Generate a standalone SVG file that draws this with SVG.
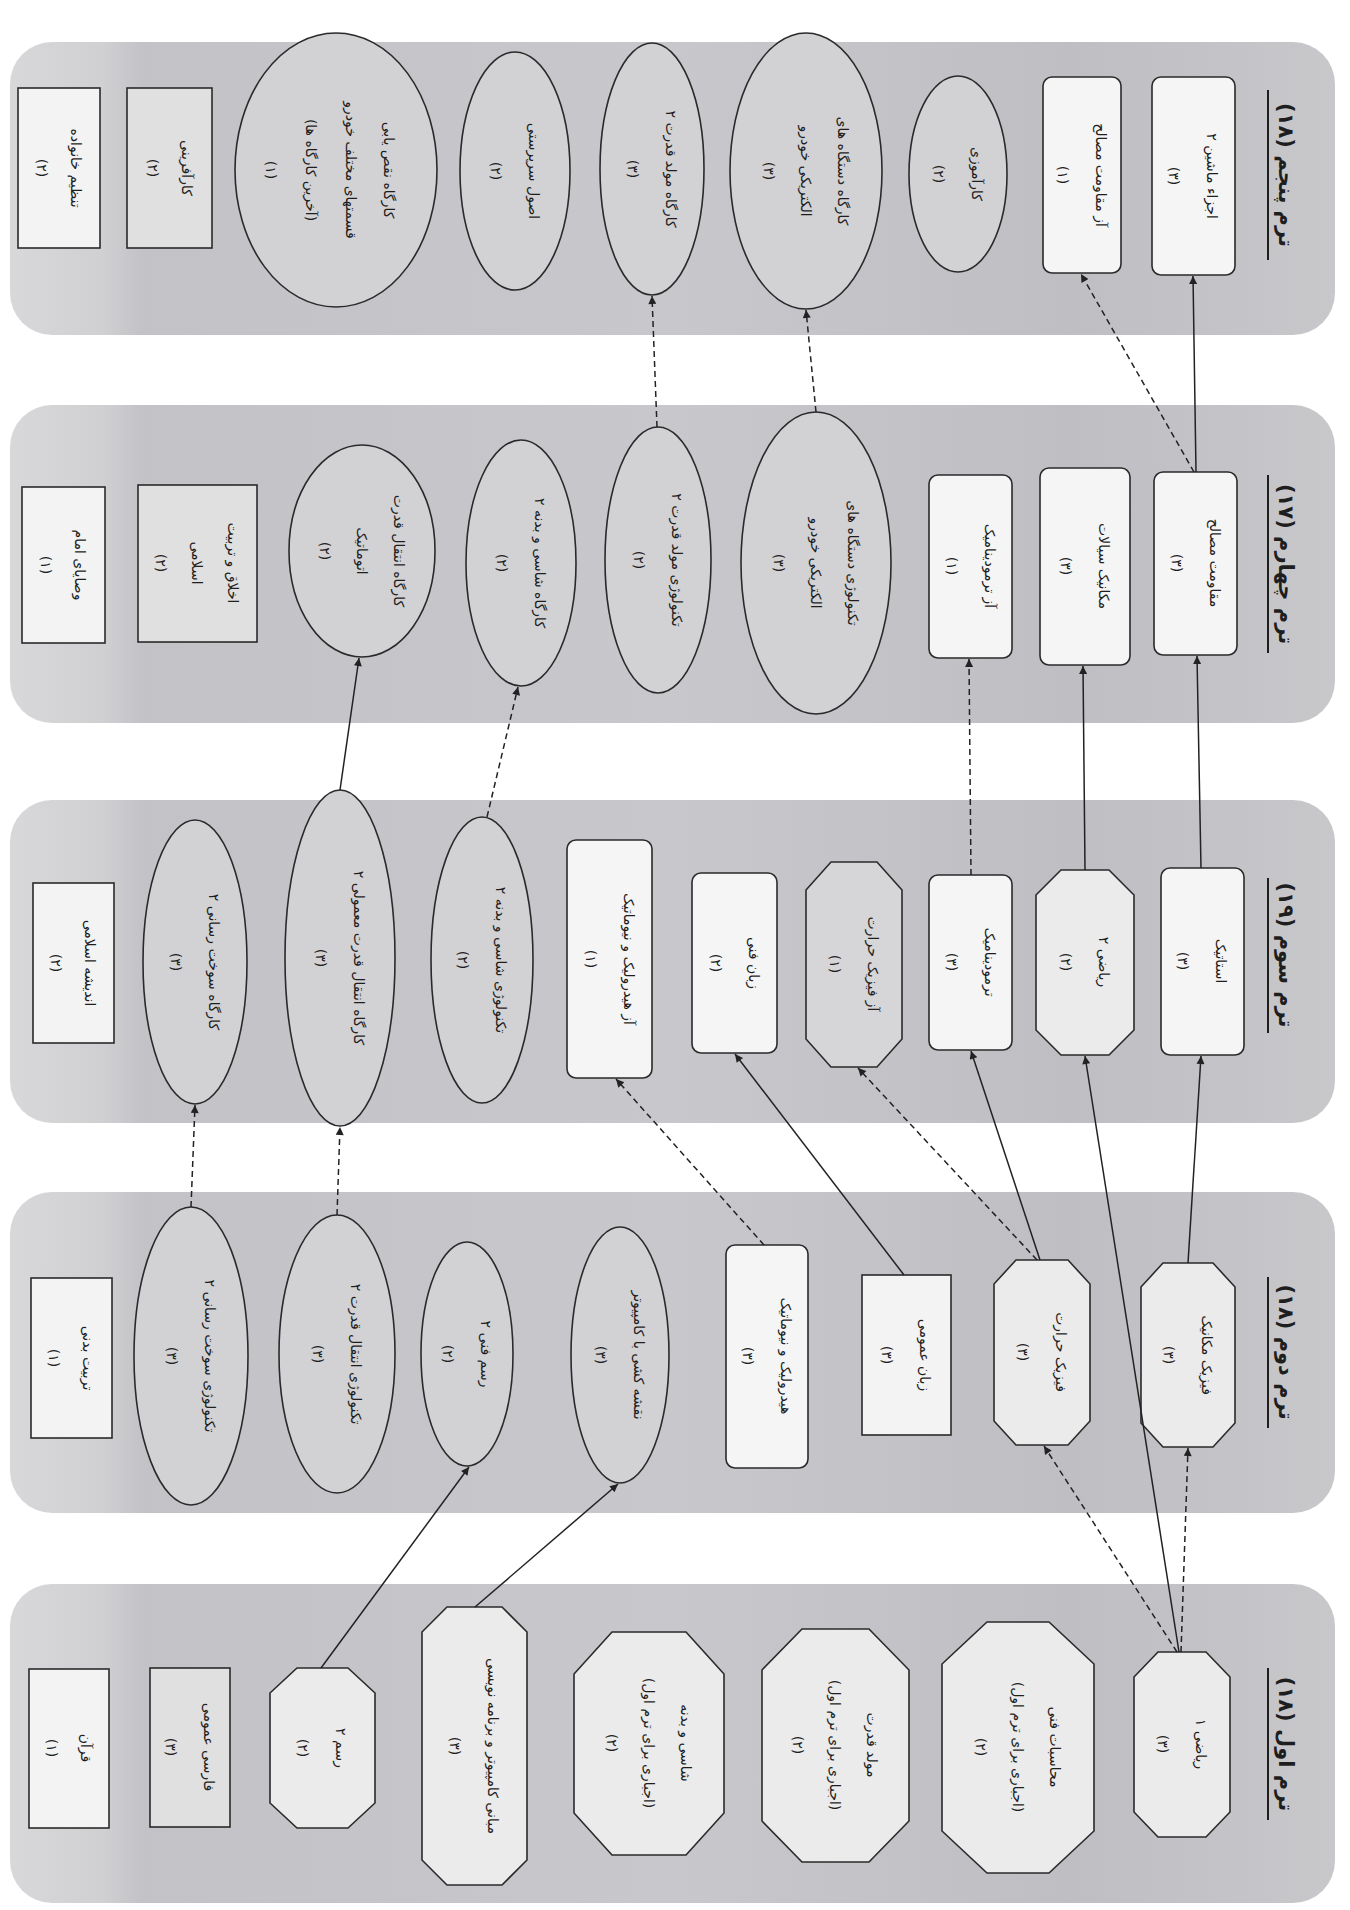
<svg xmlns="http://www.w3.org/2000/svg" width="1350" height="1910" viewBox="0 0 1350 1910">
<style>
.band{fill:url(#bandg);stroke:none}
.rc{fill:#f3f3f3;stroke:#2a2a2a;stroke-width:1.6}
.rg{fill:#e0e0e0;stroke:#2a2a2a;stroke-width:1.6}
.rr{fill:#f5f5f5;stroke:#2a2a2a;stroke-width:1.6}
.oc{fill:#ebebeb;stroke:#2a2a2a;stroke-width:1.6}
.og{fill:#d6d6d8;stroke:#2a2a2a;stroke-width:1.6}
.el{fill:#d2d2d5;stroke:#2a2a2a;stroke-width:1.6}
.t{font-family:"DejaVu Sans",sans-serif;font-size:14px;fill:#1e1e1e;text-anchor:middle;dominant-baseline:central;direction:rtl}
.h{font-family:"DejaVu Sans",sans-serif;font-size:21px;font-weight:bold;fill:#1e1e1e;text-anchor:middle;dominant-baseline:central;direction:rtl}
.ul{stroke:#1e1e1e;stroke-width:2}
.s{fill:none;stroke:#222;stroke-width:1.5;marker-end:url(#ah)}
.d{fill:none;stroke:#222;stroke-width:1.5;stroke-dasharray:6 4;marker-end:url(#ah)}
</style>
<defs>
<linearGradient id="bandg" x1="0" y1="0" x2="1" y2="0">
<stop offset="0" stop-color="#d8d8da"/>
<stop offset="0.07" stop-color="#d0d0d3"/>
<stop offset="0.1" stop-color="#c3c3c7"/>
<stop offset="0.5" stop-color="#c8c8cc"/>
<stop offset="0.8" stop-color="#bebec3"/>
<stop offset="1" stop-color="#c8c8cb"/>
</linearGradient>
<marker id="ah" viewBox="0 0 10 10" refX="10" refY="5" markerWidth="11" markerHeight="8" orient="auto" markerUnits="userSpaceOnUse">
<path d="M0,0 L10,5 L0,10 z" fill="#222"/>
</marker>
</defs>
<rect width="1350" height="1910" fill="#ffffff"/>
<g id="bands">
<rect class="band" x="10" y="42" width="1325" height="293" rx="42"/>
<rect class="band" x="10" y="405" width="1325" height="318" rx="42"/>
<rect class="band" x="10" y="800" width="1325" height="323" rx="42"/>
<rect class="band" x="10" y="1192" width="1325" height="321" rx="42"/>
<rect class="band" x="10" y="1584" width="1325" height="319" rx="42"/>
</g>
<g id="headers">
<g id="h5"><line class="ul" x1="1268" y1="90" x2="1268" y2="260"/><g transform="translate(1286,175) rotate(90)"><text class="h">ترم پنجم (۱۸)</text></g></g>
<g id="h4"><line class="ul" x1="1268" y1="475" x2="1268" y2="653"/><g transform="translate(1286,564) rotate(90)"><text class="h">ترم چهارم (۱۷)</text></g></g>
<g id="h3"><line class="ul" x1="1268" y1="878" x2="1268" y2="1033"/><g transform="translate(1286,955) rotate(90)"><text class="h">ترم سوم (۱۹)</text></g></g>
<g id="h2"><line class="ul" x1="1268" y1="1277" x2="1268" y2="1428"/><g transform="translate(1286,1352) rotate(90)"><text class="h">ترم دوم (۱۸)</text></g></g>
<g id="h1"><line class="ul" x1="1268" y1="1668" x2="1268" y2="1820"/><g transform="translate(1286,1744) rotate(90)"><text class="h">ترم اول (۱۸)</text></g></g>
</g>

<!-- Term 1 -->
<g id="quran"><rect class="rc" x="29" y="1669" width="80" height="159"/><g transform="translate(69,1748) rotate(90)"><text class="t" y="-17">قرآن</text><text class="t" y="17">(۱)</text></g></g>
<g id="farsi"><rect class="rg" x="150" y="1668" width="80" height="159"/><g transform="translate(190,1747) rotate(90)"><text class="t" y="-19">فارسی عمومی</text><text class="t" y="19">(۳)</text></g></g>
<g id="rasm2"><polygon class="oc" points="297,1668 348,1668 375,1693 375,1803 348,1828 297,1828 270,1803 270,1693"/><g transform="translate(322,1748) rotate(90)"><text class="t" y="-19">رسم ۲</text><text class="t" y="19">(۲)</text></g></g>
<g id="mabani"><polygon class="oc" points="447,1607 502,1607 527,1632 527,1860 502,1885 447,1885 422,1860 422,1632"/><g transform="translate(474,1746) rotate(90)"><text class="t" y="-19">مبانی کامپیوتر و برنامه نویسی</text><text class="t" y="19">(۳)</text></g></g>
<g id="shasi"><polygon class="oc" points="612,1632 686,1632 724,1674 724,1813 686,1855 612,1855 574,1813 574,1674"/><g transform="translate(649,1743) rotate(90)"><text class="t" y="-37">شاسی و بدنه</text><text class="t" y="0">(اجباری برای ترم اول)</text><text class="t" y="37">(۲)</text></g></g>
<g id="movaled"><polygon class="oc" points="802,1629 869,1629 909,1670 909,1821 869,1862 802,1862 762,1821 762,1670"/><g transform="translate(835,1745) rotate(90)"><text class="t" y="-37">مولد قدرت</text><text class="t" y="0">(اجباری برای ترم اول)</text><text class="t" y="37">(۲)</text></g></g>
<g id="mohasebat"><polygon class="oc" points="987,1622 1049,1622 1094,1664 1094,1831 1049,1873 987,1873 942,1831 942,1664"/><g transform="translate(1018,1747) rotate(90)"><text class="t" y="-37">محاسبات فنی</text><text class="t" y="0">(اجباری برای ترم اول)</text><text class="t" y="37">(۲)</text></g></g>
<g id="riazi1"><polygon class="oc" points="1158,1652 1206,1652 1230,1677 1230,1812 1206,1837 1158,1837 1134,1812 1134,1677"/><g transform="translate(1182,1744) rotate(90)"><text class="t" y="-19">ریاضی ۱</text><text class="t" y="19">(۳)</text></g></g>

<!-- Term 2 -->
<g id="tarbiat"><rect class="rc" x="31" y="1278" width="81" height="160"/><g transform="translate(71,1358) rotate(90)"><text class="t" y="-17">تربیت بدنی</text><text class="t" y="17">(۱)</text></g></g>
<g id="tech-sookht2"><ellipse class="el" cx="191" cy="1356" rx="57" ry="149"/><g transform="translate(191,1356) rotate(90)"><text class="t" y="-19">تکنولوژی سوخت رسانی ۲</text><text class="t" y="19">(۳)</text></g></g>
<g id="tech-enteghal2"><ellipse class="el" cx="337" cy="1354" rx="58" ry="139"/><g transform="translate(337,1354) rotate(90)"><text class="t" y="-19">تکنولوژی انتقال قدرت ۲</text><text class="t" y="19">(۳)</text></g></g>
<g id="rasm-fani2"><ellipse class="el" cx="467" cy="1354" rx="46" ry="112"/><g transform="translate(467,1354) rotate(90)"><text class="t" y="-19">رسم فنی ۲</text><text class="t" y="19">(۲)</text></g></g>
<g id="naghshe"><ellipse class="el" cx="620" cy="1355" rx="49" ry="128"/><g transform="translate(620,1355) rotate(90)"><text class="t" y="-19">نقشه کشی با کامپیوتر</text><text class="t" y="19">(۳)</text></g></g>
<g id="hydraulic"><rect class="rr" x="726" y="1245" width="82" height="223" rx="9"/><g transform="translate(767,1356) rotate(90)"><text class="t" y="-19">هیدرولیک و نیوماتیک</text><text class="t" y="19">(۳)</text></g></g>
<g id="zaban-omoomi"><rect class="rc" x="862" y="1275" width="89" height="160"/><g transform="translate(906,1355) rotate(90)"><text class="t" y="-19">زبان عمومی</text><text class="t" y="19">(۳)</text></g></g>
<g id="fizik-hararat"><polygon class="oc" points="1016,1260 1068,1260 1090,1284 1090,1421 1068,1445 1016,1445 994,1421 994,1284"/><g transform="translate(1042,1352) rotate(90)"><text class="t" y="-19">فیزیک حرارت</text><text class="t" y="19">(۳)</text></g></g>
<g id="fizik-mechanic"><polygon class="oc" points="1163,1263 1213,1263 1235,1287 1235,1423 1213,1447 1163,1447 1141,1423 1141,1287"/><g transform="translate(1188,1355) rotate(90)"><text class="t" y="-19">فیزیک مکانیک</text><text class="t" y="19">(۳)</text></g></g>

<!-- Term 3 -->
<g id="andishe"><rect class="rc" x="33" y="883" width="81" height="160"/><g transform="translate(73,963) rotate(90)"><text class="t" y="-17">اندیشه اسلامی</text><text class="t" y="17">(۲)</text></g></g>
<g id="kargah-sookht2"><ellipse class="el" cx="195" cy="962" rx="52" ry="142"/><g transform="translate(195,962) rotate(90)"><text class="t" y="-19">کارگاه سوخت رسانی ۲</text><text class="t" y="19">(۳)</text></g></g>
<g id="kargah-enteghal-mamooli2"><ellipse class="el" cx="340" cy="958" rx="55" ry="168"/><g transform="translate(340,958) rotate(90)"><text class="t" y="-19">کارگاه انتقال قدرت معمولی ۲</text><text class="t" y="19">(۳)</text></g></g>
<g id="tech-shasi2"><ellipse class="el" cx="482" cy="960" rx="51" ry="143"/><g transform="translate(482,960) rotate(90)"><text class="t" y="-19">تکنولوژی شاسی و بدنه ۲</text><text class="t" y="19">(۲)</text></g></g>
<g id="az-hydraulic"><rect class="rr" x="567" y="840" width="85" height="238" rx="9"/><g transform="translate(610,959) rotate(90)"><text class="t" y="-19">آز هیدرولیک و نیوماتیک</text><text class="t" y="19">(۱)</text></g></g>
<g id="zaban-fani"><rect class="rr" x="692" y="873" width="85" height="180" rx="9"/><g transform="translate(735,963) rotate(90)"><text class="t" y="-19">زبان فنی</text><text class="t" y="19">(۲)</text></g></g>
<g id="az-fizik-hararat"><polygon class="og" points="831,862 877,862 902,890 902,1039 877,1067 831,1067 806,1039 806,890"/><g transform="translate(854,964) rotate(90)"><text class="t" y="-19">آز فیزیک حرارت</text><text class="t" y="19">(۱)</text></g></g>
<g id="termo"><rect class="rr" x="929" y="875" width="83" height="175" rx="9"/><g transform="translate(971,962) rotate(90)"><text class="t" y="-19">ترمودینامیک</text><text class="t" y="19">(۳)</text></g></g>
<g id="riazi2"><polygon class="oc" points="1061,870 1109,870 1134,895 1134,1030 1109,1055 1061,1055 1036,1030 1036,895"/><g transform="translate(1085,962) rotate(90)"><text class="t" y="-19">ریاضی ۲</text><text class="t" y="19">(۲)</text></g></g>
<g id="estatik"><rect class="rr" x="1161" y="868" width="83" height="187" rx="9"/><g transform="translate(1202,961) rotate(90)"><text class="t" y="-19">استاتیک</text><text class="t" y="19">(۳)</text></g></g>

<!-- Term 4 -->
<g id="vasaya"><rect class="rc" x="22" y="487" width="83" height="156"/><g transform="translate(63,565) rotate(90)"><text class="t" y="-17">وصایای امام</text><text class="t" y="17">(۱)</text></g></g>
<g id="akhlagh"><rect class="rg" x="138" y="485" width="119" height="157"/><g transform="translate(197,563) rotate(90)"><text class="t" y="-36">اخلاق و تربیت</text><text class="t" y="0">اسلامی</text><text class="t" y="36">(۲)</text></g></g>
<g id="kargah-enteghal-auto"><ellipse class="el" cx="362" cy="551" rx="73" ry="106"/><g transform="translate(362,551) rotate(90)"><text class="t" y="-37">کارگاه انتقال قدرت</text><text class="t" y="0">اتوماتیک</text><text class="t" y="37">(۲)</text></g></g>
<g id="kargah-shasi2"><ellipse class="el" cx="521" cy="563" rx="55" ry="123"/><g transform="translate(521,563) rotate(90)"><text class="t" y="-19">کارگاه شاسی و بدنه ۲</text><text class="t" y="19">(۲)</text></g></g>
<g id="tech-movaled2"><ellipse class="el" cx="658" cy="560" rx="53" ry="133"/><g transform="translate(658,560) rotate(90)"><text class="t" y="-19">تکنولوژی مولد قدرت ۲</text><text class="t" y="19">(۲)</text></g></g>
<g id="tech-electric"><ellipse class="el" cx="816" cy="563" rx="75" ry="151"/><g transform="translate(816,563) rotate(90)"><text class="t" y="-37">تکنولوژی دستگاه های</text><text class="t" y="0">الکتریکی خودرو</text><text class="t" y="37">(۳)</text></g></g>
<g id="az-termo"><rect class="rr" x="929" y="475" width="83" height="183" rx="9"/><g transform="translate(971,566) rotate(90)"><text class="t" y="-19">آز ترمودینامیک</text><text class="t" y="19">(۱)</text></g></g>
<g id="mechanic-sayalat"><rect class="rr" x="1040" y="468" width="90" height="197" rx="9"/><g transform="translate(1085,566) rotate(90)"><text class="t" y="-19">مکانیک سیالات</text><text class="t" y="19">(۳)</text></g></g>
<g id="moghavemat"><rect class="rr" x="1154" y="472" width="83" height="183" rx="9"/><g transform="translate(1196,563) rotate(90)"><text class="t" y="-19">مقاومت مصالح</text><text class="t" y="19">(۳)</text></g></g>

<!-- Term 5 -->
<g id="tanzim"><rect class="rc" x="18" y="88" width="82" height="160"/><g transform="translate(59,168) rotate(90)"><text class="t" y="-17">تنظیم خانواده</text><text class="t" y="17">(۲)</text></g></g>
<g id="karafarini"><rect class="rg" x="127" y="88" width="85" height="160"/><g transform="translate(170,168) rotate(90)"><text class="t" y="-17">کارآفرینی</text><text class="t" y="17">(۲)</text></g></g>
<g id="kargah-naghs"><ellipse class="el" cx="336" cy="170" rx="101" ry="137"/><g transform="translate(331,170) rotate(90)"><text class="t" y="-58">کارگاه نقص یابی</text><text class="t" y="-20">قسمتهای مختلف خودرو</text><text class="t" y="20">(آخرین کارگاه ها)</text><text class="t" y="60">(۱)</text></g></g>
<g id="osool"><ellipse class="el" cx="515" cy="171" rx="55" ry="119"/><g transform="translate(515,171) rotate(90)"><text class="t" y="-19">اصول سرپرستی</text><text class="t" y="19">(۲)</text></g></g>
<g id="kargah-movaled2"><ellipse class="el" cx="652" cy="169" rx="52" ry="126"/><g transform="translate(652,169) rotate(90)"><text class="t" y="-19">کارگاه مولد قدرت ۲</text><text class="t" y="19">(۳)</text></g></g>
<g id="kargah-electric"><ellipse class="el" cx="806" cy="171" rx="76" ry="138"/><g transform="translate(806,171) rotate(90)"><text class="t" y="-37">کارگاه دستگاه های</text><text class="t" y="0">الکتریکی خودرو</text><text class="t" y="37">(۳)</text></g></g>
<g id="karamoozi"><ellipse class="el" cx="958" cy="174" rx="49" ry="98"/><g transform="translate(958,174) rotate(90)"><text class="t" y="-19">کارآموزی</text><text class="t" y="19">(۲)</text></g></g>
<g id="az-moghavemat"><rect class="rr" x="1043" y="77" width="78" height="196" rx="9"/><g transform="translate(1082,175) rotate(90)"><text class="t" y="-19">آز مقاومت مصالح</text><text class="t" y="19">(۱)</text></g></g>
<g id="ajza2"><rect class="rr" x="1152" y="77" width="83" height="198" rx="9"/><g transform="translate(1193,176) rotate(90)"><text class="t" y="-19">اجزاء ماشین ۲</text><text class="t" y="19">(۳)</text></g></g>

<g id="connectors">
<line class="d" x1="1181" y1="1652" x2="1188" y2="1448"/>
<line class="d" x1="1177" y1="1652" x2="1044" y2="1446"/>
<line class="s" x1="1179" y1="1652" x2="1085" y2="1056"/>
<line class="s" x1="321" y1="1668" x2="469" y2="1467"/>
<line class="s" x1="475" y1="1607" x2="618" y2="1484"/>
<line class="s" x1="1188" y1="1263" x2="1201" y2="1056"/>
<line class="s" x1="1040" y1="1260" x2="971" y2="1051"/>
<line class="d" x1="1037" y1="1260" x2="858" y2="1068"/>
<line class="s" x1="904" y1="1275" x2="735" y2="1054"/>
<line class="d" x1="764" y1="1245" x2="616" y2="1079"/>
<line class="d" x1="191" y1="1207" x2="195" y2="1105"/>
<line class="d" x1="337" y1="1215" x2="340" y2="1127"/>
<line class="s" x1="1201" y1="868" x2="1197" y2="656"/>
<line class="s" x1="1085" y1="870" x2="1083" y2="666"/>
<line class="d" x1="971" y1="875" x2="969" y2="659"/>
<line class="d" x1="487" y1="817" x2="518" y2="687"/>
<line class="s" x1="340" y1="790" x2="359" y2="658"/>
<line class="s" x1="1196" y1="472" x2="1193" y2="276"/>
<line class="d" x1="1194" y1="472" x2="1081" y2="274"/>
<line class="d" x1="816" y1="412" x2="806" y2="310"/>
<line class="d" x1="657" y1="427" x2="652" y2="296"/>
</g>
</svg>
